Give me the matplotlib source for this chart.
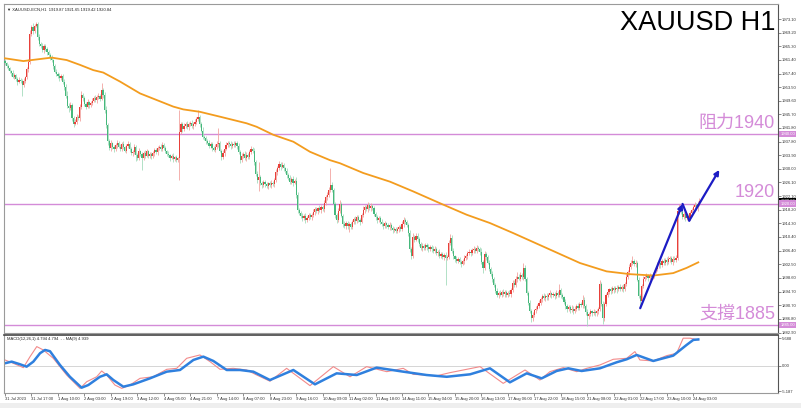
import numpy as np
import matplotlib
matplotlib.use('Agg')
import matplotlib.pyplot as plt
from matplotlib.patches import Rectangle

plt.rcParams['font.family'] = ['Liberation Sans', 'DejaVu Sans']

# hourly closes, XAUUSD H1, 31 Jul - 24 Aug 2023
close = [
    1960.4, 1959.6, 1958.9, 1958.1, 1957.6, 1956.5, 1957.0, 1955.8, 1955.1, 1955.6,
    1955.4, 1954.1, 1955.2, 1956.3, 1958.8, 1960.8, 1968.9, 1970.8, 1969.6, 1971.2,
    1971.6, 1967.8, 1966.0, 1965.4, 1964.2, 1965.3, 1964.6, 1963.6, 1962.8, 1961.9,
    1961.2, 1959.6, 1958.0, 1957.3, 1956.8, 1956.0, 1956.8, 1955.0, 1953.6, 1951.0,
    1948.2, 1947.6, 1948.4, 1944.5, 1943.0, 1943.6, 1945.0, 1944.6, 1947.8, 1951.3,
    1950.4, 1948.6, 1947.9, 1949.2, 1948.3, 1949.0, 1949.6, 1950.4, 1949.8, 1950.6,
    1951.0, 1950.2, 1952.7, 1951.2, 1947.0, 1942.5, 1938.0, 1936.0, 1937.3, 1936.2,
    1935.6, 1936.9, 1937.5, 1936.4, 1935.8, 1937.0, 1936.2, 1935.2, 1936.6, 1937.2,
    1935.6, 1934.5, 1934.9, 1936.3, 1934.0, 1933.2, 1935.1, 1934.2, 1933.0, 1934.6,
    1933.8, 1935.0, 1933.7, 1934.2, 1933.6, 1934.5, 1935.3, 1934.8, 1935.9, 1936.4,
    1935.8, 1936.9, 1936.1, 1935.0, 1934.3, 1933.9, 1933.2, 1933.8, 1932.9, 1933.4,
    1932.6, 1933.0, 1940.6, 1942.8, 1941.5, 1942.4, 1943.0, 1942.1, 1942.8, 1943.3,
    1942.4, 1942.9, 1943.6, 1944.3, 1944.9, 1943.0, 1941.0, 1939.2, 1938.8, 1938.0,
    1937.5, 1936.6, 1937.2, 1935.9, 1935.5, 1936.4, 1937.1, 1937.5, 1935.2, 1933.4,
    1934.6, 1935.8, 1936.9, 1937.5, 1937.0, 1936.5, 1937.2, 1936.9, 1937.4, 1936.6,
    1934.8, 1932.6, 1933.8, 1934.4, 1933.1, 1934.0, 1933.4, 1934.8, 1935.6, 1935.2,
    1932.0, 1928.6, 1926.8, 1927.6, 1926.0, 1925.4, 1926.1, 1925.6, 1925.0, 1925.8,
    1925.3, 1925.9, 1925.6, 1926.8, 1929.0, 1930.2, 1931.4, 1930.6, 1931.2, 1930.1,
    1929.4, 1928.2, 1927.4, 1926.3, 1927.1, 1926.0, 1926.6, 1922.5, 1918.2, 1917.3,
    1916.5, 1915.8, 1916.4, 1915.3, 1915.9, 1916.6, 1916.0, 1916.8, 1917.5, 1918.4,
    1917.8, 1918.6, 1918.1, 1919.0, 1918.5, 1920.3, 1921.8, 1922.5, 1924.0, 1925.4,
    1923.9, 1920.0, 1916.8, 1915.3, 1917.9, 1920.0, 1916.5, 1914.2, 1913.5, 1914.4,
    1913.6, 1914.0, 1913.3, 1914.6, 1915.6, 1915.0, 1916.0, 1915.3, 1914.8, 1916.6,
    1918.2, 1919.0, 1918.3, 1919.6, 1918.8, 1919.4, 1918.6, 1917.1, 1916.0, 1915.3,
    1915.8, 1914.7, 1914.2, 1913.6, 1914.3, 1913.9, 1913.2, 1913.8, 1912.9, 1912.3,
    1912.8, 1912.1, 1912.6, 1913.2, 1912.8, 1914.1, 1915.3, 1914.6, 1913.9, 1911.5,
    1907.0, 1904.9, 1910.4, 1909.6, 1910.8, 1909.8, 1908.4, 1907.3, 1907.9, 1907.2,
    1908.1, 1907.5, 1906.8, 1907.6, 1907.0, 1906.4, 1906.9, 1905.8, 1906.2, 1905.0,
    1905.5, 1904.6, 1905.2, 1904.4, 1904.7, 1908.6, 1910.2, 1906.5, 1904.8, 1904.1,
    1903.5, 1904.0, 1903.2, 1902.7, 1903.4, 1904.3, 1905.0, 1905.8, 1906.2, 1905.7,
    1906.6, 1907.0, 1906.4, 1907.2, 1906.9, 1906.2, 1903.2, 1901.6, 1905.4, 1904.6,
    1903.0, 1901.2, 1899.8, 1898.3, 1896.6, 1894.9, 1893.6, 1894.3, 1893.8, 1894.6,
    1893.9, 1894.5, 1893.7, 1894.2, 1894.0, 1895.0, 1897.2, 1896.6, 1898.2, 1899.0,
    1898.4, 1899.4, 1898.8, 1901.6, 1898.3, 1894.4, 1891.5, 1889.2, 1887.0, 1888.0,
    1889.3, 1889.8, 1890.6, 1891.3, 1892.5, 1893.4, 1892.8, 1893.5, 1893.0, 1893.7,
    1894.2, 1893.6, 1894.0, 1893.4, 1894.3, 1893.8, 1895.0, 1893.6, 1893.0, 1891.8,
    1890.4, 1889.6, 1890.2, 1889.3, 1889.8, 1889.0, 1889.8, 1890.5, 1890.1, 1891.0,
    1890.8, 1892.4, 1890.6, 1888.8, 1887.6, 1888.3, 1889.0, 1888.5, 1888.9, 1888.4,
    1889.1, 1889.6, 1896.8, 1891.2, 1887.0, 1891.0, 1893.8, 1894.6, 1895.3, 1894.9,
    1895.6, 1895.1, 1895.8, 1895.3, 1896.0, 1895.5, 1896.1, 1895.4, 1896.9, 1899.0,
    1900.2, 1901.8, 1902.9, 1903.4, 1902.6, 1903.0, 1898.1, 1893.5, 1892.0, 1896.2,
    1898.3, 1898.8, 1899.3, 1898.6, 1899.2, 1898.9, 1899.5, 1900.4, 1901.3, 1902.2,
    1902.9, 1902.3, 1903.4, 1903.0, 1903.8, 1903.2, 1904.0, 1904.4, 1903.1, 1904.2,
    1903.8, 1904.3, 1918.0, 1918.6, 1917.6, 1916.2, 1916.9, 1915.8, 1916.5, 1915.9,
    1917.2, 1918.1, 1918.9, 1919.5, 1918.8, 1919.87, 1920.84,
]
first_open = 1960.9

# wick lengths above / below the body
upper_wick = [
    0.6, 0.4, 0.7, 0.5, 0.3, 0.8, 0.6, 0.4, 0.5, 0.7, 0.6, 0.4, 0.9, 0.5, 0.6, 0.8, 1.0, 0.7, 1.2, 0.6,
    0.7, 0.5, 0.9, 0.6, 0.8, 0.5, 0.7, 0.4, 0.6, 0.5, 0.9, 0.4, 0.6, 0.7, 0.5, 0.8, 0.6, 0.4, 0.7, 0.9,
    1.5, 0.6, 0.8, 0.5, 0.7, 0.6, 0.9, 0.5, 0.8, 1.2, 0.6, 0.5, 0.7, 0.9, 0.4, 0.6, 0.8, 0.5, 0.7, 0.6,
    0.9, 0.5, 2.0, 0.6, 0.8, 1.0, 0.7, 0.6, 0.9, 0.5, 0.7, 0.6, 0.8, 0.5, 0.7, 0.6, 0.9, 0.4, 0.6, 0.8,
    0.5, 0.7, 0.6, 0.8, 0.5, 0.6, 0.9, 0.4, 0.7, 0.5, 0.8, 0.6, 0.5, 0.7, 0.6, 0.5, 0.8, 0.6, 0.7, 0.5,
    0.6, 0.9, 0.5, 0.6, 0.4, 0.7, 0.5, 0.6, 0.8, 0.4, 0.6, 0.5, 6.4, 0.8, 0.6, 0.7, 0.5, 0.9, 0.6, 0.5,
    0.7, 0.6, 0.8, 0.7, 2.1, 0.6, 0.5, 0.9, 0.6, 0.7, 0.5, 0.8, 0.6, 0.5, 0.7, 0.6, 0.8, 4.3, 0.6, 0.5,
    0.7, 0.6, 0.8, 0.5, 0.6, 0.9, 0.5, 0.7, 0.6, 0.5, 0.8, 0.6, 0.7, 0.5, 0.6, 0.8, 0.5, 0.7, 0.9, 0.6,
    0.8, 0.6, 0.7, 4.5, 0.6, 0.5, 0.8, 0.6, 0.7, 0.5, 0.6, 0.8, 0.5, 0.7, 0.9, 0.6, 0.8, 0.5, 0.7, 0.6,
    0.5, 0.8, 0.6, 0.7, 0.5, 0.9, 0.6, 1.0, 0.8, 0.6, 0.5, 0.7, 0.6, 0.8, 0.5, 0.6, 0.7, 0.5, 0.8, 0.6,
    0.7, 0.5, 0.9, 0.6, 0.7, 0.8, 0.6, 0.9, 0.7, 4.9, 0.8, 0.7, 0.6, 0.5, 0.8, 0.9, 0.6, 0.5, 0.7, 0.6,
    0.5, 0.8, 0.6, 0.7, 0.5, 0.9, 0.6, 0.7, 0.5, 0.8, 1.0, 0.7, 0.6, 0.9, 0.5, 0.7, 0.6, 0.8, 0.5, 0.6,
    0.7, 0.5, 0.8, 0.6, 0.7, 0.5, 0.6, 0.8, 0.5, 0.7, 0.6, 0.5, 0.8, 0.6, 0.7, 0.9, 0.8, 0.6, 0.7, 0.5,
    0.8, 0.6, 1.0, 0.7, 0.8, 0.6, 0.7, 0.5, 0.9, 0.6, 0.7, 0.5, 0.8, 0.6, 0.5, 0.7, 0.9, 0.6, 0.5, 0.8,
    0.6, 0.7, 0.5, 0.8, 0.6, 0.9, 1.1, 0.7, 0.6, 0.5, 0.8, 0.6, 0.7, 0.5, 0.6, 0.8, 0.5, 0.7, 0.6, 0.8,
    0.5, 0.7, 0.6, 0.8, 0.5, 0.6, 0.9, 0.7, 1.0, 0.6, 0.5, 0.8, 0.6, 0.7, 0.5, 0.6, 0.8, 0.5, 0.7, 0.6,
    0.8, 0.5, 0.6, 0.7, 0.9, 0.6, 0.8, 0.7, 0.9, 1.4, 0.6, 0.8, 0.5, 1.2, 0.6, 0.7, 0.5, 0.8, 0.6, 0.7,
    0.5, 0.8, 0.6, 0.9, 0.7, 0.6, 0.8, 0.5, 0.7, 0.6, 0.8, 0.5, 0.7, 0.6, 0.9, 0.5, 1.8, 0.6, 0.7, 0.5,
    0.8, 0.6, 0.7, 0.5, 0.9, 0.6, 0.7, 0.5, 0.8, 0.6, 0.7, 1.3, 0.6, 0.5, 0.8, 0.6, 0.7, 0.5, 0.8, 0.6,
    0.5, 0.7, 1.2, 0.6, 0.8, 0.7, 0.6, 0.9, 0.5, 0.7, 0.6, 0.8, 0.5, 0.7, 0.6, 0.9, 0.5, 0.7, 0.6, 0.8,
    0.7, 0.9, 0.8, 1.6, 0.6, 0.7, 0.5, 0.8, 0.6, 0.7, 0.9, 0.6, 0.8, 0.5, 0.7, 0.6, 0.8, 0.5, 0.7, 0.9,
    0.6, 0.8, 0.7, 0.9, 0.6, 0.7, 0.8, 0.6, 0.5, 0.7, 0.6, 0.8, 0.9, 1.3, 0.6, 0.7, 0.8, 0.5, 0.7, 0.6,
    0.8, 0.6, 0.7, 0.9, 0.6, 0.8, 0.81,
]
lower_wick = [
    0.5, 0.7, 0.4, 0.6, 0.8, 0.5, 0.7, 0.6, 0.9, 0.5, 0.6, 3.1, 0.7, 0.5, 0.6, 0.8, 0.5, 0.7, 0.9, 0.6,
    0.5, 0.8, 0.6, 0.7, 0.5, 0.9, 0.6, 0.8, 0.5, 0.7, 0.6, 0.9, 0.5, 0.7, 0.8, 0.6, 0.5, 0.7, 0.9, 0.6,
    0.8, 1.2, 0.6, 0.7, 1.0, 0.5, 0.8, 0.6, 0.7, 0.5, 0.9, 0.6, 0.7, 0.5, 0.8, 0.6, 0.7, 0.5, 0.6, 0.8,
    0.6, 0.7, 0.5, 0.8, 0.9, 0.7, 1.2, 0.6, 0.8, 0.5, 0.7, 0.6, 0.9, 0.5, 0.7, 0.8, 0.6, 0.5, 0.7, 0.6,
    0.8, 0.6, 0.7, 0.5, 1.8, 0.6, 0.7, 0.5, 3.3, 0.6, 0.8, 0.5, 0.7, 0.6, 0.9, 0.5, 0.7, 0.6, 0.8, 0.5,
    0.7, 0.6, 0.8, 0.5, 0.7, 0.6, 0.9, 0.5, 0.8, 0.6, 0.7, 0.5, 6.2, 0.6, 0.8, 0.5, 0.7, 0.6, 0.9, 0.5,
    0.6, 0.8, 0.5, 0.7, 0.6, 0.9, 0.5, 0.7, 0.6, 0.8, 0.5, 0.7, 0.6, 0.9, 0.5, 0.7, 0.6, 0.8, 0.5, 1.0,
    0.6, 0.8, 0.5, 0.7, 0.6, 0.9, 0.5, 0.7, 0.6, 0.8, 0.5, 0.9, 0.6, 0.7, 0.5, 0.8, 0.6, 0.7, 0.5, 0.6,
    0.8, 0.7, 0.9, 3.3, 0.6, 0.8, 0.5, 0.7, 0.6, 0.9, 0.5, 0.7, 0.6, 0.8, 0.5, 0.7, 0.6, 0.9, 0.5, 0.7,
    0.6, 0.8, 0.5, 0.7, 0.6, 0.9, 0.5, 0.8, 1.0, 0.6, 0.7, 0.8, 0.5, 0.9, 0.6, 0.7, 0.5, 0.8, 0.6, 0.7,
    0.5, 0.8, 0.6, 0.7, 0.5, 0.9, 0.6, 0.7, 0.5, 0.8, 0.6, 0.7, 0.9, 0.8, 0.6, 0.7, 0.5, 0.9, 0.6, 0.7,
    0.8, 1.8, 0.6, 0.7, 0.5, 0.8, 0.6, 0.7, 0.9, 0.5, 0.6, 0.8, 0.5, 0.7, 0.6, 0.9, 0.5, 0.7, 0.6, 0.8,
    0.5, 0.7, 0.6, 0.8, 0.5, 0.9, 0.6, 0.7, 0.5, 0.8, 0.6, 0.7, 0.5, 0.9, 0.6, 0.7, 0.8, 0.5, 0.6, 0.7,
    0.8, 0.9, 0.6, 0.7, 0.5, 0.8, 0.6, 0.7, 0.9, 0.5, 0.6, 0.8, 0.7, 0.5, 0.9, 0.6, 0.7, 0.5, 0.8, 0.6,
    0.7, 0.5, 0.8, 7.7, 0.6, 0.7, 0.5, 0.8, 0.6, 0.9, 0.5, 0.7, 0.6, 0.8, 0.5, 0.7, 0.6, 0.9, 0.5, 0.7,
    0.6, 0.8, 0.5, 0.7, 0.6, 0.9, 0.5, 1.5, 0.6, 0.8, 0.5, 0.7, 0.6, 0.9, 0.5, 0.7, 0.6, 0.8, 0.5, 0.7,
    0.6, 0.8, 0.5, 0.7, 0.6, 0.9, 0.5, 0.7, 0.6, 0.8, 0.5, 0.7, 0.6, 0.9, 0.5, 0.7, 0.6, 0.8, 1.2, 0.7,
    0.6, 0.8, 0.5, 0.7, 0.6, 0.9, 0.5, 0.7, 0.6, 0.8, 0.5, 0.7, 0.6, 0.9, 0.5, 0.7, 0.6, 0.8, 0.5, 0.7,
    0.6, 0.8, 0.5, 0.7, 0.6, 0.9, 0.5, 0.7, 0.6, 0.8, 0.5, 0.7, 0.6, 0.9, 2.7, 0.7, 0.6, 0.8, 0.5, 0.7,
    0.6, 0.8, 0.5, 0.7, 1.7, 0.9, 0.5, 0.7, 0.6, 0.8, 0.5, 0.7, 0.6, 0.9, 0.5, 0.7, 0.6, 0.8, 0.5, 0.7,
    0.6, 0.8, 0.5, 0.7, 0.6, 0.9, 0.5, 0.7, 1.5, 0.8, 0.5, 0.7, 0.6, 0.9, 0.5, 0.7, 0.6, 0.8, 0.5, 0.7,
    0.6, 0.8, 0.5, 0.7, 0.6, 0.9, 0.5, 0.7, 0.6, 0.8, 0.5, 0.7, 0.6, 0.9, 0.5, 0.7, 0.6, 0.8, 0.5, 0.7,
    0.6, 0.8, 0.5, 0.7, 0.6, 0.9, 0.45,
]

# moving average (bar index, price)
ma_idx = [0, 11.8, 30, 39.6, 48.2, 56.7, 63.1, 73.9, 86.7, 97.4, 108.1, 114.5, 125.2, 138.1, 155.2,
          161.6, 172.3, 185.2, 195.9, 208.7, 215.2, 230.1, 247.3, 262.2, 279.4, 296.5, 311.5,
          326.5, 347.9, 369.3, 386.4, 401.4, 416.4, 429.2, 437.8, 445.3]
ma_val = [1961.8, 1961.0, 1962.0, 1961.3, 1959.9, 1958.4, 1957.7, 1955.1, 1951.7, 1949.8, 1947.9,
          1947.1, 1946.4, 1945.0, 1943.1, 1942.1, 1939.8, 1937.8, 1934.9, 1932.5, 1931.6, 1928.8,
          1926.3, 1923.5, 1920.1, 1916.8, 1914.4, 1911.5, 1907.2, 1902.9, 1900.5, 1899.7, 1899.3,
          1900.0, 1901.5, 1903.1]

# MACD(12,26,1) main line (red) and its MA(9) (blue)
macd_idx = [0, 5.3, 11.8, 16.1, 20.4, 24.6, 31, 39.6, 48.2, 52.5, 58.9, 62.1, 65.3, 70.6, 75,
            80.3, 86.7, 95.2, 103.9, 110.3, 116.7, 125.2, 131.7, 138.1, 146.6, 155.2, 161.7, 170.2,
            180.9, 195.9, 210.9, 221.6, 232.3, 245.2, 255.8, 262.2, 277.3, 285.8, 305.1, 320, 334,
            343.6, 350, 358.6, 367.2, 373.6, 382.1, 390.7, 399.3, 404.6, 407.8, 416.4, 425, 431.4,
            435.6, 440, 445.3]
macd_val = [1.22, 0.55, -0.34, 1.9, 3.94, 3.26, 1.56, -1.84, -4.56, -3.2, -2.2, -1.02, -1.84,
            -3.88, -4.56, -3.88, -2.52, -2.2, -0.68, -0.48, 1.56, 2.24, 0.88, -0.68, -0.48, -0.82,
            -1.84, -3.1, -0.48, -4.0, -0.14, -2.2, -0.14, -1.16, -0.48, -1.7, -2.0, -1.36, -0.14,
            -3.54, -0.82, -2.86, -1.16, -0.34, -1.16, -0.48, 0.2, 1.36, 1.56, 2.92, 1.22, 1.02, 2.1,
            2.58, 5.65, 5.65, 5.3]
signal_idx = [0, 4.3, 9.6, 13.9, 18.2, 22.5, 25.7, 28.9, 35.3, 41.7, 49.2, 53.5, 61, 65.3, 69.6,
              76, 82.4, 93.1, 103.9, 112.4, 121, 127.4, 133.8, 142.4, 150.9, 159.5, 170.2, 185.2,
              199.1, 213, 225.9, 238.7, 255.8, 270.8, 283.7, 298.7, 311.5, 324.3, 335.1, 344.7,
              354.3, 361.8, 370.4, 382.1, 392.9, 399.3, 405.7, 416.4, 429.2, 437.8, 442.1, 445.3]
signal_val = [0.55, 0.88, 0.35, -0.14, 0.88, 2.59, 3.26, 3.0, 0.2, -2.2, -4.42, -3.88, -2.2, -1.7,
              -2.86, -4.22, -3.74, -2.52, -1.16, -0.82, 1.22, 1.9, 1.02, -0.82, -0.82, -1.16, -2.86,
              -0.82, -3.74, -1.5, -1.84, -0.34, -1.16, -1.84, -2.2, -1.7, -0.48, -3.33, -1.5, -2.52,
              -1.02, -0.48, -1.02, -0.48, 0.75, 1.36, 2.24, 1.02, 2.1, 4.28, 5.3, 5.4]

levels = [1940, 1920, 1885]
level_text = ['阻力1940', '1920', '支撐1885']

# hand drawn trend arrow (bar index, price)
arrow_idx = [408, 435.2, 439.5, 458.8]
arrow_px = [1889.9, 1919.9, 1915.1, 1929.7]

price_ticks = [1973.10, 1969.20, 1965.30, 1961.40, 1957.40, 1953.50, 1949.60, 1945.70, 1941.80,
               1937.80, 1933.90, 1930.00, 1926.10, 1922.10, 1918.20, 1914.30, 1910.40, 1906.40,
               1902.50, 1898.60, 1894.70, 1890.70, 1886.80, 1882.90]
date_labels = ['31 Jul 2023', '31 Jul 17:00', '1 Aug 10:00', '2 Aug 03:00', '2 Aug 19:00',
               '3 Aug 12:00', '4 Aug 05:00', '4 Aug 21:00', '7 Aug 14:00', '8 Aug 07:00',
               '8 Aug 23:00', '9 Aug 16:00', '10 Aug 09:00', '11 Aug 02:00', '11 Aug 18:00',
               '14 Aug 11:00', '15 Aug 04:00', '15 Aug 20:00', '16 Aug 13:00', '17 Aug 06:00',
               '17 Aug 22:00', '18 Aug 15:00', '21 Aug 08:00', '22 Aug 01:00', '22 Aug 17:00',
               '23 Aug 10:00', '24 Aug 03:00']
bars_per_label = 17

for name, arr in [('upper_wick', upper_wick), ('lower_wick', lower_wick)]:
    if len(arr) != len(close):
        raise ValueError(f'{name} has {len(arr)} values, close has {len(close)}')

c = np.array(close)
o = np.r_[first_open, c[:-1]]
hi = np.maximum(o, c) + np.array(upper_wick)
lo = np.minimum(o, c) - np.array(lower_wick)
x = np.arange(len(c))
rising = c >= o

RED, GREEN = '#e8403a', '#46b87c'
LEVEL = '#d48bd8'

W, H = 801, 408
fig = plt.figure(figsize=(W / 100, H / 100), dpi=100)
fig.patch.set_facecolor('white')
ax = fig.add_axes([4 / W, 1 - 333 / H, 774 / W, 329 / H])
axm = fig.add_axes([4 / W, 1 - 393 / H, 774 / W, 58 / H], sharex=ax)

# candles
ax.vlines(x, lo, hi, colors=np.where(rising, '#f3a3a0', '#a5dcbd'), lw=0.6, zorder=2)
body = np.maximum(np.abs(c - o), 0.15)
ax.bar(x, body, bottom=np.minimum(o, c), width=0.75,
       color=np.where(rising, RED, GREEN), lw=0, zorder=3)

ax.plot(ma_idx, ma_val, color='#f39c1e', lw=1.3, zorder=4)

for lv, txt in zip(levels, level_text):
    ax.axhline(lv, color=LEVEL, lw=1.0, zorder=1)
    ax.text((775 - 4) / 774, lv + 0.7, txt, transform=ax.get_yaxis_transform(),
            ha='right', va='bottom', fontsize=13, color=LEVEL,
            family=['Liberation Sans', 'Noto Sans CJK TC'], zorder=6)

# arrow
pts = list(zip(arrow_idx, arrow_px))
styles = ['-|>', '-', '-|>']
for (p0, p1), st in zip(zip(pts[:-1], pts[1:]), styles):
    ax.annotate('', xy=p1, xytext=p0,
                arrowprops=dict(arrowstyle=st, color='#1c1cc4', lw=1.6,
                                mutation_scale=7, shrinkA=0, shrinkB=0), zorder=7)

ax.set_xlim(-0.64, 496.5)
ax.set_ylim(1882.77, 1977.42)
ax.yaxis.tick_right()
ax.set_yticks(price_ticks)
ax.set_yticklabels([f'{t:.2f}' for t in price_ticks])
ax.tick_params(axis='y', labelsize=3, length=2, width=0.4, pad=1, colors='#333333')
ax.tick_params(axis='x', length=0, labelbottom=False)
for s in ax.spines.values():
    s.set_color('#9a9a9a')
    s.set_linewidth(0.8)
ax.spines['right'].set_color('#555555')

# right axis highlight boxes
boxes = [(1940.00, LEVEL), (1920.84, 'black'), (1920.00, LEVEL), (1885.00, LEVEL)]
for val, col in boxes:
    ax.text(1.003, val, f'{val:.2f}', transform=ax.get_yaxis_transform(), fontsize=3,
            color='white', va='center', ha='left', clip_on=False,
            bbox=dict(facecolor=col, edgecolor='none', pad=0.8))

fig.text(775 / W, 1 - 10 / H, 'XAUUSD H1', ha='right', va='top', fontsize=19.5, color='black')
ax.text(0.004, 0.99, '▼ XAUUSD-ECN,H1  1919.87 1921.65 1919.42 1920.84',
        transform=ax.transAxes, fontsize=3, va='top', ha='left', color='#222222')

# MACD panel
axm.axhline(0, color='#cfcfcf', lw=0.6)
axm.plot(macd_idx, macd_val, color='#f28a8a', lw=0.8)
axm.plot(signal_idx, signal_val, color='#2f80de', lw=1.8)
axm.set_ylim(-5.5, 6.3)
axm.yaxis.tick_right()
axm.set_yticks([5.688, 0.0, -5.187])
axm.set_yticklabels(['5.688', '0.00', '-5.187'])
axm.tick_params(axis='y', labelsize=3, length=2, width=0.4, pad=1, colors='#333333')
axm.set_xticks([i * bars_per_label for i in range(len(date_labels))])
axm.set_xticklabels(date_labels)
axm.tick_params(axis='x', labelsize=3, length=2, width=0.4, pad=1.2, colors='#333333')
for lab in axm.get_xticklabels():
    lab.set_ha('left')
for s in axm.spines.values():
    s.set_color('#9a9a9a')
    s.set_linewidth(0.8)
axm.spines['right'].set_color('#555555')
axm.spines['top'].set_color('#444444')
axm.spines['top'].set_linewidth(1.2)
axm.text(0.004, 0.97, 'MACD(12,26,1) 4.794 4.794  - - MA(9) 4.939', transform=axm.transAxes,
         fontsize=3, va='top', ha='left', color='#222222')

fig.patches.append(Rectangle((0, 0), 1, 5 / H, transform=fig.transFigure,
                             facecolor='#eeeeee', edgecolor='none'))

fig.savefig('out.png', dpi=100)
